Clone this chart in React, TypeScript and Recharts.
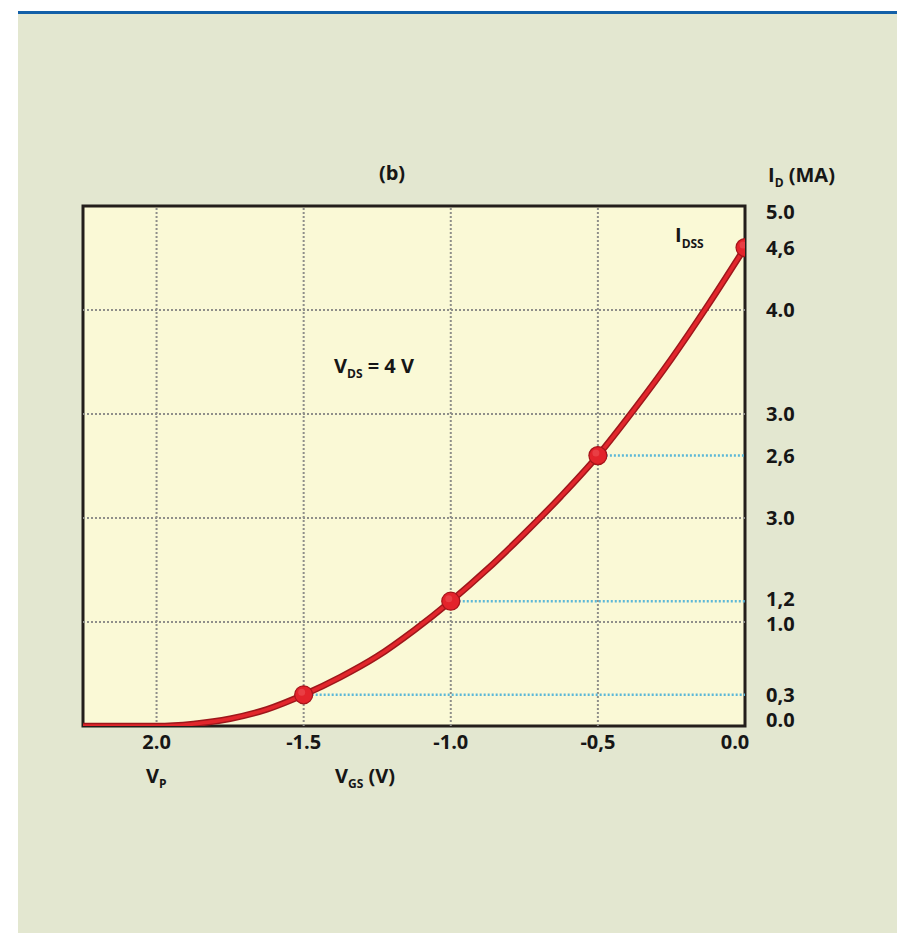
import React from "react";
import {
  ComposedChart,
  Line,
  Scatter,
  XAxis,
  YAxis,
  ReferenceLine,
  ReferenceArea,
} from "recharts";

// Transfer curve I_D vs V_GS
const VGS = [-2.25, -2.0, -1.875, -1.75, -1.625, -1.5, -1.375, -1.25, -1.125, -1.0, -0.875, -0.75, -0.625, -0.5, -0.375, -0.25, -0.125, 0];
const ID = [0, 0, 0.02, 0.07, 0.16, 0.3, 0.47, 0.67, 0.92, 1.2, 1.51, 1.85, 2.21, 2.6, 3.05, 3.53, 4.05, 4.6];

// Marked points
const MARK_VGS = [-1.5, -1.0, -0.5, 0];
const MARK_ID = [0.3, 1.2, 2.6, 4.6];

// Projection lines (blue dotted) start at these marked points
const PROJ_VGS = [-1.5, -1.0, -0.5];
const PROJ_ID = [0.3, 1.2, 2.6];

// Axes
const X_DOMAIN = [-2.25, 0];
const Y_DOMAIN = [0, 5];
const X_TICKS = [-2, -1.5, -1, -0.5, 0];
const X_TICK_LABELS = ["2.0", "-1.5", "-1.0", "-0,5", "0.0"];
const Y_TICKS = [0, 0.3, 1, 1.2, 2, 2.6, 3, 4, 4.6, 5];
const Y_TICK_LABELS = ["0.0", "0,3", "1.0", "1,2", "3.0", "2,6", "3.0", "4.0", "4,6", "5.0"];
const GRID_X = [-2, -1.5, -1, -0.5];
const GRID_Y = [1, 2, 3, 4];

const curveData = VGS.map((v, i) => ({ vgs: v, id: ID[i] }));
const markData = MARK_VGS.map((v, i) => ({ vgs: v, id: MARK_ID[i] }));

const FONT = "'Open Sans', 'Noto Sans', sans-serif";
const TXT = "#161616";

const XTick = (props: any) => {
  const { x, y, payload } = props;
  const i = X_TICKS.indexOf(payload.value);
  const label = X_TICK_LABELS[i] ?? String(payload.value);
  const shift = payload.value === 0 ? -10 : 0;
  return (
    <text
      x={x + shift}
      y={y}
      dy={15}
      textAnchor="middle"
      fontFamily={FONT}
      fontWeight={700}
      fontSize={20}
      fill={TXT}
    >
      {label}
    </text>
  );
};

const YTick = (props: any) => {
  const { x, y, payload } = props;
  const i = Y_TICKS.indexOf(payload.value);
  const label = Y_TICK_LABELS[i] ?? String(payload.value);
  let dy = 7;
  if (payload.value === Y_DOMAIN[1]) dy += 6;
  if (payload.value === 0) dy -= 6;
  if (payload.value === 1.2) dy -= 2;
  if (payload.value === 1) dy += 2;
  return (
    <text
      x={x}
      y={y}
      dy={dy}
      textAnchor="start"
      fontFamily={FONT}
      fontWeight={700}
      fontSize={20}
      fill={TXT}
    >
      {label}
    </text>
  );
};

const Dot = (props: any) => {
  const { cx, cy } = props;
  if (cx == null || cy == null) return null;
  return (
    <g>
      <circle cx={cx} cy={cy} r={9} fill="#e3232b" stroke="#a5141a" strokeWidth={1.2} />
      <circle cx={cx - 2} cy={cy - 2.5} r={3.5} fill="#ef5a5e" opacity={0.5} />
    </g>
  );
};

export default function App() {
  return (
    <div
      style={{
        position: "absolute",
        left: 0,
        top: 0,
        width: 897,
        height: 933,
        background: "#ffffff",
        overflow: "hidden",
      }}
    >
      <div
        style={{
          position: "absolute",
          left: 18,
          top: 11,
          width: 879,
          height: 3,
          background: "#1360a8",
        }}
      />
      <div
        style={{
          position: "absolute",
          left: 18,
          top: 14,
          width: 879,
          height: 919,
          background: "#e3e7d0",
        }}
      />
      <div style={{ position: "absolute", left: 0, top: 0 }}>
        <ComposedChart
          width={897}
          height={933}
          data={curveData}
          margin={{ top: 206, right: 92, bottom: 177, left: 83 }}
        >
          <XAxis
            type="number"
            dataKey="vgs"
            domain={X_DOMAIN}
            ticks={X_TICKS}
            allowDataOverflow
            axisLine={false}
            tickLine={false}
            tick={<XTick />}
            height={30}
            interval={0}
          />
          <YAxis
            type="number"
            orientation="right"
            domain={Y_DOMAIN}
            ticks={Y_TICKS}
            allowDataOverflow
            axisLine={false}
            tickLine={false}
            tick={<YTick />}
            tickMargin={15}
            width={60}
            interval={0}
          />
          <ReferenceArea
            x1={X_DOMAIN[0]}
            x2={X_DOMAIN[1]}
            y1={Y_DOMAIN[0]}
            y2={Y_DOMAIN[1]}
            fill="#faf9d6"
            fillOpacity={1}
            stroke="none"
          />
          {GRID_X.map((v) => (
            <ReferenceLine
              key={"gx" + v}
              x={v}
              stroke="#8f8f8a"
              strokeWidth={2}
              strokeDasharray="2 2"
            />
          ))}
          {GRID_Y.map((v) => (
            <ReferenceLine
              key={"gy" + v}
              y={v}
              stroke="#8f8f8a"
              strokeWidth={2}
              strokeDasharray="2 2"
            />
          ))}
          {PROJ_VGS.map((v, i) => (
            <ReferenceLine
              key={"p" + v}
              segment={[
                { x: v, y: PROJ_ID[i] },
                { x: X_DOMAIN[1], y: PROJ_ID[i] },
              ]}
              stroke="#5cb8d8"
              strokeWidth={2.5}
              strokeDasharray="2 2"
            />
          ))}
          <ReferenceArea
            x1={X_DOMAIN[0]}
            x2={X_DOMAIN[1]}
            y1={Y_DOMAIN[0]}
            y2={Y_DOMAIN[1]}
            fill="none"
            stroke="#231e1b"
            strokeWidth={3}
          />
          <Line
            type="monotone"
            dataKey="id"
            stroke="#9e171b"
            strokeWidth={6.5}
            dot={false}
            activeDot={false}
            isAnimationActive={false}
          />
          <Line
            type="monotone"
            dataKey="id"
            stroke="#e2262c"
            strokeWidth={3.5}
            dot={false}
            activeDot={false}
            isAnimationActive={false}
          />
          <Scatter
            data={markData}
            dataKey="id"
            shape={<Dot />}
            isAnimationActive={false}
          />
        </ComposedChart>
      </div>
      <svg
        width={897}
        height={933}
        style={{ position: "absolute", left: 0, top: 0, pointerEvents: "none" }}
        fontFamily={FONT}
        fontWeight={700}
        fill={TXT}
      >
        <text x={392} y={180} fontSize={20} textAnchor="middle">
          (b)
        </text>
        <text x={768} y={182} fontSize={20}>
          I<tspan fontSize={12} dy={5}>D</tspan>
          <tspan dy={-5}> (MA)</tspan>
        </text>
        <text x={675} y={242} fontSize={20}>
          I<tspan fontSize={12} dy={6}>DSS</tspan>
        </text>
        <text x={334} y={373} fontSize={20}>
          V<tspan fontSize={12} dy={5}>DS</tspan>
          <tspan dy={-5}> = 4 V</tspan>
        </text>
        <text x={146} y={783} fontSize={20}>
          V<tspan fontSize={12} dy={5}>P</tspan>
        </text>
        <text x={335} y={783} fontSize={20}>
          V<tspan fontSize={12} dy={5}>GS</tspan>
          <tspan dy={-5}> (V)</tspan>
        </text>
      </svg>
    </div>
  );
}
